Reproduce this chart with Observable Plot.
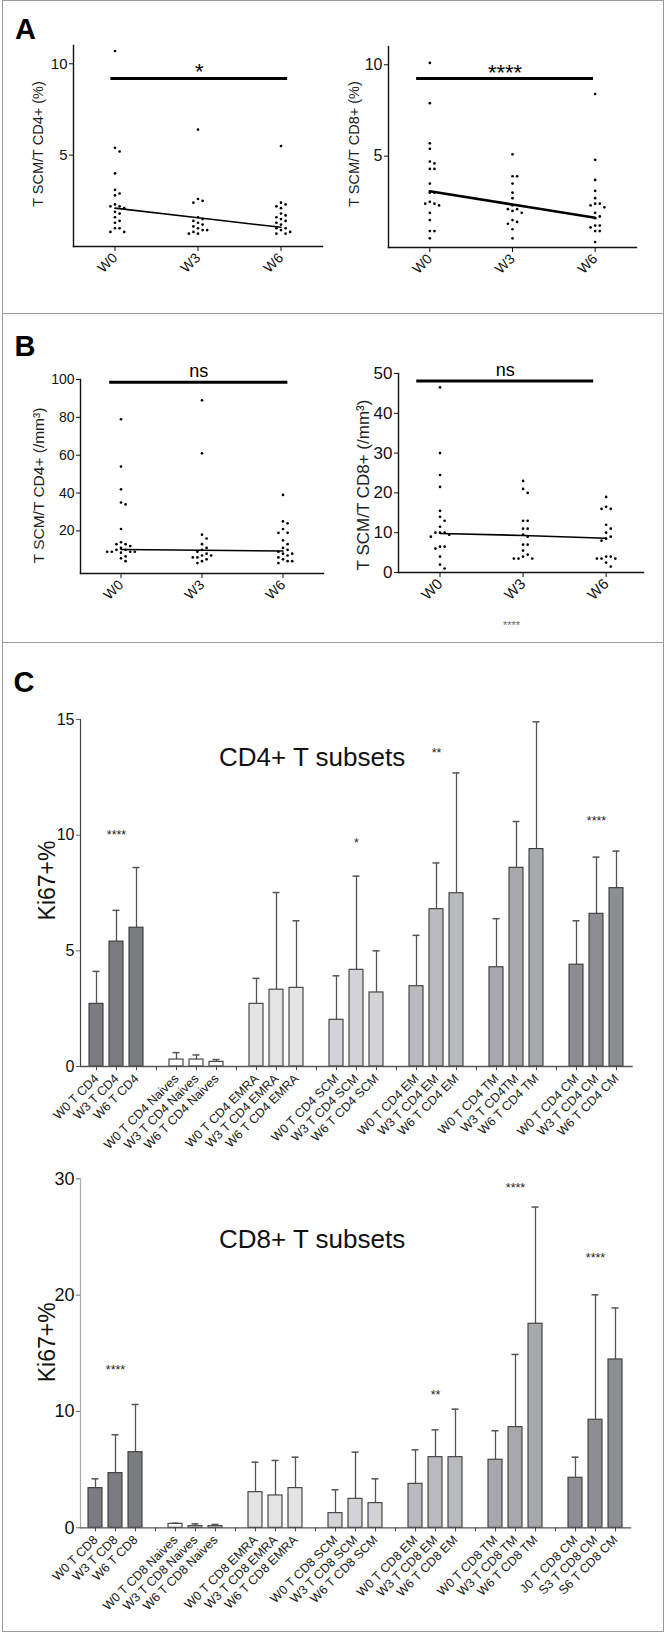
<!DOCTYPE html>
<html><head><meta charset="utf-8">
<script src="https://cdn.jsdelivr.net/npm/d3@7"></script>
<script src="https://cdn.jsdelivr.net/npm/@observablehq/plot@0.6"></script>
<style>
body{margin:0;background:#fff;font-family:"Liberation Sans",Arial,sans-serif;}
#page{position:relative;width:667px;height:1632px;overflow:hidden;background:#fff;}
.box{position:absolute;left:2px;top:0;width:660px;height:1630px;border:1px solid #9a9a9a;}
.hline{position:absolute;left:2px;width:662px;height:1px;background:#9a9a9a;}
.letter{position:absolute;font-weight:bold;font-size:29px;line-height:1;color:#000;}
.title{position:absolute;font-size:26px;line-height:1;white-space:nowrap;color:#111;}
.plotwrap{position:absolute;}
.stray{position:absolute;font-size:11px;line-height:1;color:#666;}
</style></head>
<body><div id="page">
<div class="box"></div>
<div class="hline" style="top:313px"></div>
<div class="hline" style="top:642px"></div>
<div class="letter" style="left:15px;top:14.5px">A</div>
<div class="letter" style="left:14.5px;top:332px">B</div>
<div class="letter" style="left:13.5px;top:667.5px">C</div>
<div class="title" style="left:219px;top:744px">CD4+ T subsets</div>
<div class="title" style="left:219px;top:1226px">CD8+ T subsets</div>
<div class="stray" style="left:503px;top:620px">****</div>
</div>
<script>
// ---------- Panel A / B data ----------
const weeks = ["W0", "W3", "W6"];

const cd4PctW0 = [10.7, 5.4, 5.2, 4.0, 3.1, 2.9, 2.8, 2.3, 2.2, 2.2, 2.1, 1.9, 1.8, 1.6, 1.4, 1.3, 1.0, 1.0, 0.8, 0.8];
const cd4PctW3 = [6.4, 2.6, 2.5, 2.4, 1.6, 1.5, 1.4, 1.3, 1.2, 1.1, 1.0, 0.9, 0.9, 0.8, 0.7, 0.7];
const cd4PctW6 = [5.5, 2.4, 2.3, 2.2, 2.1, 1.8, 1.7, 1.6, 1.5, 1.4, 1.3, 1.2, 1.0, 1.0, 0.9, 0.8, 0.7, 0.7];
const cd4PctTrend = [2.1, 1.57, 1.05];

const cd8PctW0 = [10.1, 7.9, 5.7, 5.4, 4.7, 4.6, 4.3, 4.3, 3.5, 3.0, 3.0, 2.5, 2.4, 2.4, 2.3, 1.9, 1.5, 0.9, 0.9, 0.5];
const cd8PctW3 = [5.1, 3.9, 3.9, 3.5, 3.0, 2.7, 2.3, 2.1, 2.1, 2.0, 1.9, 1.5, 1.4, 1.3, 1.0, 0.5];
const cd8PctW6 = [8.4, 4.8, 3.7, 3.1, 2.7, 2.4, 2.4, 2.3, 2.2, 1.9, 1.7, 1.6, 1.2, 1.2, 1.1, 0.9, 0.9, 0.3];
const cd8PctTrend = [3.08, 2.35, 1.63];

const cd4AbsW0 = [79, 54, 42, 35, 34, 21, 14, 13, 13, 12, 11, 10, 10, 9, 9, 9, 9, 8.5, 6.5, 5.5, 4];
const cd4AbsW3 = [89, 61, 18, 16, 13, 11, 10, 9, 8, 7, 7, 6, 6, 5, 4, 3];
const cd4AbsW6 = [39, 25, 24, 21, 19, 19, 15, 13, 11, 10, 9, 8, 8, 7, 6, 5, 4, 4, 3];
const cd4AbsTrend = [10.2, 9.8, 9.4];

const cd8AbsW0 = [46.5, 30, 24.5, 21.5, 15.5, 14, 13, 11.5, 10, 10, 10, 9.5, 9, 6.5, 6.5, 6, 4, 2, 1];
const cd8AbsW3 = [23, 21, 20, 13, 13, 11, 11, 9.5, 9, 7, 7, 5.5, 4.5, 4, 3.5, 3.5, 3.5];
const cd8AbsW6 = [19, 16.5, 16, 16, 12, 11, 10, 9, 8.5, 8, 4, 4, 3.5, 3.5, 3.5, 2.5, 1.5];
const cd8AbsTrend = [9.8, 9.3, 8.6];

const sigText = ["*", "****", "ns", "ns"];
const sigLevel = [9.2, 9.25, 98.6, 48.1];

// ---------- Panel C data ----------
const subsetNames = ["Total", "Naives", "EMRA", "SCM", "EM", "TM", "CM"];

const cd4Labels = ["W0 T CD4", "W3 T CD4", "W6 T CD4",
  "W0 T CD4 Naives", "W3 T CD4 Naives", "W6 T CD4 Naives",
  "W0 T CD4 EMRA", "W3 T CD4 EMRA", "W6 T CD4 EMRA",
  "W0 T CD4 SCM", "W3 T CD4 SCM", "W6 T CD4 SCM",
  "W0 T CD4 EM", "W3 T CD4 EM", "W6 T CD4 EM",
  "W0 T CD4 TM", "W3 T CD4TM", "W6 T CD4 TM",
  "W0 T CD4 CM", "W3 T CD4 CM", "W6 T CD4 CM"];
const cd4Mean = [2.71, 5.4, 6.0, 0.3, 0.3, 0.2, 2.71, 3.32, 3.4, 2.02, 4.18, 3.2, 3.47, 6.8, 7.49, 4.29, 8.59, 9.4, 4.4, 6.6, 7.71];
const cd4Sd = [1.4, 1.35, 2.6, 0.3, 0.2, 0.1, 1.1, 4.2, 2.9, 1.9, 4.05, 1.8, 2.2, 2.0, 5.2, 2.1, 2.0, 5.5, 1.9, 2.45, 1.6];
const cd4StarKeys = ["W3 T CD4", "W3 T CD4 SCM", "W3 T CD4 EM", "W3 T CD4 CM"];
const cd4StarText = ["****", "*", "**", "****"];
const cd4StarY = [10.13, 9.77, 13.7, 10.75];

const cd8Labels = ["W0 T CD8", "W3 T CD8", "W6 T CD8",
  "W0 T CD8 Naives", "W3 T CD8 Naives", "W6 T CD8 Naives",
  "W0 T CD8 EMRA", "W3 T CD8 EMRA", "W6 T CD8 EMRA",
  "W0 T CD8 SCM", "W3 T CD8 SCM", "W6 T CD8 SCM",
  "W0 T CD8 EM", "W3 T CD8 EM", "W6 T CD8 EM",
  "W0 T CD8 TM", "W3 T CD8 TM", "W6 T CD8 TM",
  "J0 T CD8 CM", "S3 T CD8 CM", "S6 T CD8 CM"];
const cd8Mean = [3.41, 4.7, 6.5, 0.34, 0.14, 0.14, 3.06, 2.78, 3.41, 1.26, 2.49, 2.12, 3.78, 6.07, 6.07, 5.85, 8.65, 17.54, 4.3, 9.29, 14.47];
const cd8Sd = [0.8, 3.3, 4.1, 0.05, 0.2, 0.15, 2.58, 3.01, 2.66, 2.01, 4.01, 2.09, 2.92, 2.35, 4.13, 2.49, 6.25, 10.03, 1.77, 10.74, 4.43];
const cd8StarKeys = ["W3 T CD8", "W3 T CD8 EM", "W3 T CD8 TM", "S3 T CD8 CM"];
const cd8StarText = ["****", "**", "****", "****"];
const cd8StarY = [13.8, 11.66, 29.5, 23.47];

// ---------- helpers ----------
const FONT = "Liberation Sans, Arial, Helvetica, sans-serif";
const page = document.getElementById("page");

function place(svg, left, top) {
  const d = document.createElement("div");
  d.className = "plotwrap";
  d.style.left = left + "px";
  d.style.top = top + "px";
  d.appendChild(svg);
  page.appendChild(d);
}

// deterministic beeswarm offsets (pixels) for one column
function swarm(values, yPx, minDist) {
  const pts = values.map(v => ({v, py: yPx(v)})).sort((a, b) => a.py - b.py);
  const placed = [];
  const step = minDist / 2;
  for (const p of pts) {
    let off = 0;
    for (let k = 0; k < 60; k++) {
      const o = (k % 2 ? 1 : -1) * Math.ceil(k / 2) * step;
      if (placed.every(q => Math.hypot(q.off - o, q.py - p.py) >= minDist)) { off = o; break; }
    }
    p.off = off;
    placed.push(p);
  }
  return placed;
}

function scatterPanel(c) {
  const yPx = d3.scaleLinear(c.yDomain, [c.height - c.mB, c.mT]);
  const unitsPerPx = (c.xDomain[1] - c.xDomain[0]) / (c.width - c.mL - c.mR);
  const dots = [];
  c.series.forEach((vals, i) => {
    swarm(vals, yPx, 4.6).forEach(p => dots.push({x: i + p.off * unitsPerPx, y: p.v}));
  });
  const trend = c.trend.map((v, i) => ({x: i, y: v}));
  const sig = [{y: c.sigY, x1: c.sigSpan[0], x2: c.sigSpan[1], xm: (c.sigSpan[0] + c.sigSpan[1]) / 2, t: c.sigT}];
  const svg = Plot.plot({
    width: c.width, height: c.height,
    marginLeft: c.mL, marginRight: c.mR, marginTop: c.mT, marginBottom: c.mB,
    x: {domain: c.xDomain},
    y: {domain: c.yDomain},
    style: {fontFamily: FONT, color: "#111", background: "transparent", overflow: "visible"},
    marks: [
      Plot.frame({anchor: "left", stroke: "#111", strokeWidth: 1.4}),
      Plot.frame({anchor: "bottom", stroke: "#111", strokeWidth: 1.4}),
      Plot.axisY({ticks: c.yTicks, tickSize: 4, tickPadding: 2, fontSize: c.tickFont, label: null}),
      Plot.axisX({ticks: [0, 1, 2], tickFormat: i => weeks[i], tickRotate: -45, tickSize: 5, tickPadding: 4, fontSize: c.xFont, label: null}),
      Plot.dot(dots, {x: "x", y: "y", r: 1.35, fill: "#000", stroke: null}),
      Plot.line(trend, {x: "x", y: "y", stroke: "#000", strokeWidth: c.trendWidth}),
      Plot.ruleY(sig, {y: "y", x1: "x1", x2: "x2", stroke: "#000", strokeWidth: 3}),
      Plot.text(sig, {x: "xm", y: "y", text: "t", lineAnchor: "bottom", dy: c.sigDy, fontSize: c.sigFont, fill: "#000"}),
      Plot.text([c.yLabel], {text: d => d, frameAnchor: "left", textAnchor: "middle", rotate: -90, dx: c.labelDx, dy: c.labelDy, fontSize: c.labelFont, lineAnchor: "middle", fill: "#222"})
    ]
  });
  place(svg, c.left, c.top);
}

function barPanel(c) {
  const rows = [];
  const domain = [];
  subsetNames.forEach((s, g) => {
    if (g > 0) domain.push("gap" + g);
    for (let k = 0; k < 3; k++) {
      const i = g * 3 + k;
      rows.push({key: c.labels[i], subset: s, mean: c.mean[i], hi: c.mean[i] + c.sd[i]});
      domain.push(c.labels[i]);
    }
  });
  const stars = c.starKeys.map((k, i) => ({key: k, t: c.starText[i], y: c.starY[i]}));
  const svg = Plot.plot({
    width: c.width, height: c.height,
    marginLeft: c.mL, marginRight: c.mR, marginTop: c.mT, marginBottom: c.mB,
    x: {type: "band", domain, paddingInner: 0.31, paddingOuter: 0.17},
    y: {domain: c.yDomain},
    color: {domain: subsetNames, range: ["#7b7c7f", "#ffffff", "#e4e4e4", "#d3d3d5", "#b9babc", "#a7a8aa", "#8d8e91"]},
    style: {fontFamily: FONT, color: "#111", background: "transparent", overflow: "visible"},
    marks: [
      Plot.ruleX(rows, {x: "key", y1: "mean", y2: "hi", stroke: "#555", strokeWidth: 1.3}),
      Plot.tickY(rows, {x: "key", y: "hi", stroke: "#555", strokeWidth: 1.5, insetLeft: 3.5, insetRight: 3.5}),
      Plot.barY(rows, {x: "key", y: "mean", fill: "subset", stroke: "#3a3a3a", strokeWidth: 1.1}),
      Plot.frame({anchor: "left", stroke: c.yAxisColor, strokeWidth: 1.2}),
      Plot.frame({anchor: "bottom", stroke: "#555", strokeWidth: 1.3}),
      Plot.axisY({ticks: c.yTicks, tickSize: 4, tickPadding: 2, fontSize: c.tickFont, label: null, stroke: "#666"}),
      Plot.axisX({tickFormat: d => d.startsWith("gap") ? "" : d, tickRotate: -45, tickSize: 4, tickPadding: 6, fontSize: 12.5, label: null, stroke: "#444", fill: "#1a1a1a"}),
      Plot.text(stars, {x: "key", y: "y", text: "t", fontSize: 12.5, dy: 3, fill: "#222"}),
      Plot.text([c.yLabel], {text: d => d, frameAnchor: "left", textAnchor: "middle", rotate: -90, dx: c.labelDx, dy: c.labelDy, fontSize: 23, lineAnchor: "middle", fill: "#111"})
    ]
  });
  place(svg, c.left, c.top);
}

// ---------- Panel A ----------
scatterPanel({left: 0, top: 0, width: 330, height: 300, mL: 73, mR: 8, mT: 45, mB: 54,
  yDomain: [0, 11], yTicks: [5, 10], xDomain: [-0.5, 2.5],
  series: [cd4PctW0, cd4PctW3, cd4PctW6], trend: cd4PctTrend, trendWidth: 1.6,
  sigY: sigLevel[0], sigT: sigText[0], sigSpan: [-0.05, 2.08], sigDy: 1, sigFont: 22,
  yLabel: "T SCM/T CD4+ (%)", labelDx: -35, labelDy: -2, labelFont: 14.5, tickFont: 15, xFont: 14});

scatterPanel({left: 330, top: 0, width: 337, height: 300, mL: 58, mR: 31, mT: 46, mB: 53,
  yDomain: [0, 11], yTicks: [5, 10], xDomain: [-0.5, 2.5],
  series: [cd8PctW0, cd8PctW3, cd8PctW6], trend: cd8PctTrend, trendWidth: 2.6,
  sigY: sigLevel[1], sigT: sigText[1], sigSpan: [-0.16, 1.98], sigDy: 1.3, sigFont: 22,
  yLabel: "T SCM/T CD8+ (%)", labelDx: -34, labelDy: -3, labelFont: 14.5, tickFont: 16, xFont: 14});

// ---------- Panel B ----------
scatterPanel({left: 0, top: 313, width: 330, height: 300, mL: 80, mR: 7, mT: 66, mB: 40,
  yDomain: [-2.5, 100], yTicks: [20, 40, 60, 80, 100], xDomain: [-0.5, 2.5],
  series: [cd4AbsW0, cd4AbsW3, cd4AbsW6], trend: cd4AbsTrend, trendWidth: 1.6,
  sigY: sigLevel[2], sigT: sigText[2], sigSpan: [-0.14, 2.06], sigDy: -5.5, sigFont: 18,
  yLabel: "T SCM/T CD4+ (/mm³)", labelDx: -41.7, labelDy: 9, labelFont: 15.5, tickFont: 14, xFont: 14});

scatterPanel({left: 330, top: 313, width: 337, height: 300, mL: 68, mR: 24, mT: 60, mB: 41,
  yDomain: [0, 50], yTicks: [0, 10, 20, 30, 40, 50], xDomain: [-0.5, 2.45],
  series: [cd8AbsW0, cd8AbsW3, cd8AbsW6], trend: cd8AbsTrend, trendWidth: 1.6,
  sigY: sigLevel[3], sigT: sigText[3], sigSpan: [-0.28, 1.85], sigDy: -5, sigFont: 18,
  yLabel: "T SCM/T CD8+ (/mm³)", labelDx: -34.7, labelDy: 12, labelFont: 17, tickFont: 17, xFont: 15});

// ---------- Panel C ----------
barPanel({left: 0, top: 642, width: 667, height: 510, mL: 80, mR: 35.5, mT: 77, mB: 86,
  yDomain: [0, 15], yTicks: [0, 5, 10, 15], tickFont: 16, yAxisColor: "#444",
  labels: cd4Labels, mean: cd4Mean, sd: cd4Sd,
  starKeys: cd4StarKeys, starText: cd4StarText, starY: cd4StarY,
  yLabel: "Ki67+%", labelDx: -33.3, labelDy: -12.5});

barPanel({left: 0, top: 1152, width: 667, height: 480, mL: 80, mR: 37, mT: 26.3, mB: 104.7,
  yDomain: [0, 30], yTicks: [0, 10, 20, 30], tickFont: 18, yAxisColor: "#aaa",
  labels: cd8Labels, mean: cd8Mean, sd: cd8Sd,
  starKeys: cd8StarKeys, starText: cd8StarText, starY: cd8StarY,
  yLabel: "Ki67+%", labelDx: -33, labelDy: -11});
</script>
</body></html>
